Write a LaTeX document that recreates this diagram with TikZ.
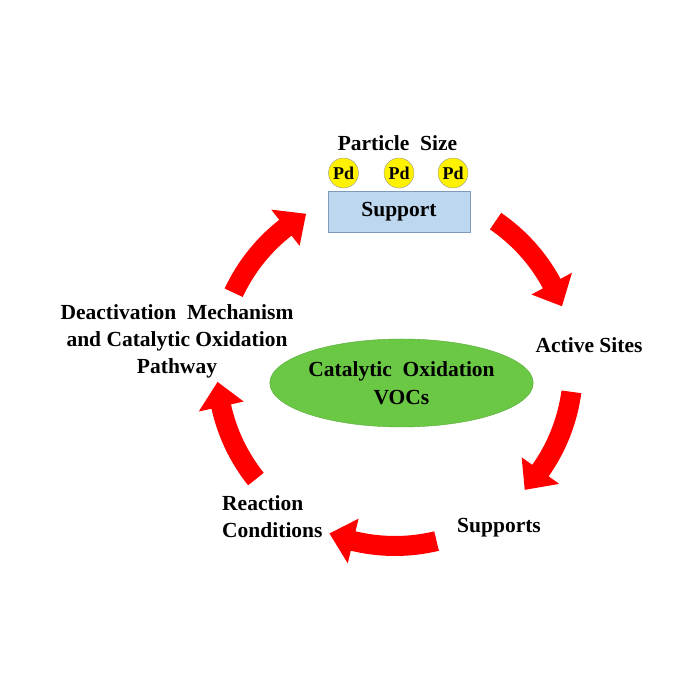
\documentclass[tikz,border=0pt]{standalone}
\usepackage{fontspec}
\setmainfont{Liberation Serif}
\usetikzlibrary{calc,shapes.geometric}

\definecolor{cyclered}{RGB}{255,0,0}
\definecolor{vocgreen}{RGB}{106,200,68}
\definecolor{vocedge}{RGB}{88,170,58}
\definecolor{supportblue}{RGB}{189,215,238}
\definecolor{supportedge}{RGB}{125,155,185}
\definecolor{pdedge}{RGB}{150,150,150}

% thick curved block arrow round the hub, clockwise from #1 (tail) to #2 (tip)
\newcommand{\cyclearrow}[2]{%
  \fill[cyclered] ($(hub)+(#1:188pt)$) arc[start angle=#1, end angle=#2+8, radius=188pt]
    -- ($(hub)+(#2+8:201pt)$) -- ($(hub)+(#2:178pt)$) -- ($(hub)+(#2+8:155pt)$)
    -- ($(hub)+(#2+8:168pt)$) arc[start angle=#2+8, end angle=#1, radius=168pt] -- cycle;}

\begin{document}
\begin{tikzpicture}[
    x=1pt, y=1pt,
    cyclelabel/.style={inner sep=0pt, align=center, font={\bfseries\fontsize{21.5}{27}\selectfont}},
    pdball/.style={circle, draw=pdedge, fill=yellow, minimum size=30pt, inner sep=0pt, font={\bfseries\fontsize{18}{18}\selectfont}},
    basebox/.style={rectangle, draw=supportedge, fill=supportblue, minimum width=142pt, minimum height=41pt, inner sep=0pt, font={\bfseries\fontsize{21.5}{27}\selectfont}},
    core/.style={ellipse, draw=vocedge, fill=vocgreen, minimum width=250pt, minimum height=88pt, inner sep=0pt, align=center, font={\bfseries\fontsize{21.5}{27.5}\selectfont}}
]
\useasboundingbox (0,0) rectangle (700,700);
\coordinate (hub) at (395,332);

% centre
\node[core] (voc) at (401.5,317) {Catalytic\ \ Oxidation\\VOCs};

% catalyst on its support
\node[basebox] (supportbox) at (399,488.5) {Support};
\node[pdball] (pdA) at (343.5,527) {Pd};
\node[pdball] (pdB) at (399,527) {Pd};
\node[pdball] (pdC) at (453,527) {Pd};
\node[cyclelabel] (sizelabel) at (397.5,557) {Particle\ \ Size};

% factors
\node[cyclelabel] (active) at (589,355) {Active Sites};
\node[cyclelabel] (supports) at (499,172) {Supports};
\node[cyclelabel, align=left, anchor=west] (reaction) at (222,183) {Reaction\\Conditions};
\node[cyclelabel] (deact) at (177,359) {Deactivation\ \ Mechanism\\and Catalytic Oxidation\\Pathway};

% cycle arrows
\cyclearrow{55.6}{20.3}
\cyclearrow{-7.7}{-43.2}
\cyclearrow{-76.5}{-111.6}
\cyclearrow{-141.4}{-175.5}
\cyclearrow{155}{120}
\end{tikzpicture}
\end{document}
